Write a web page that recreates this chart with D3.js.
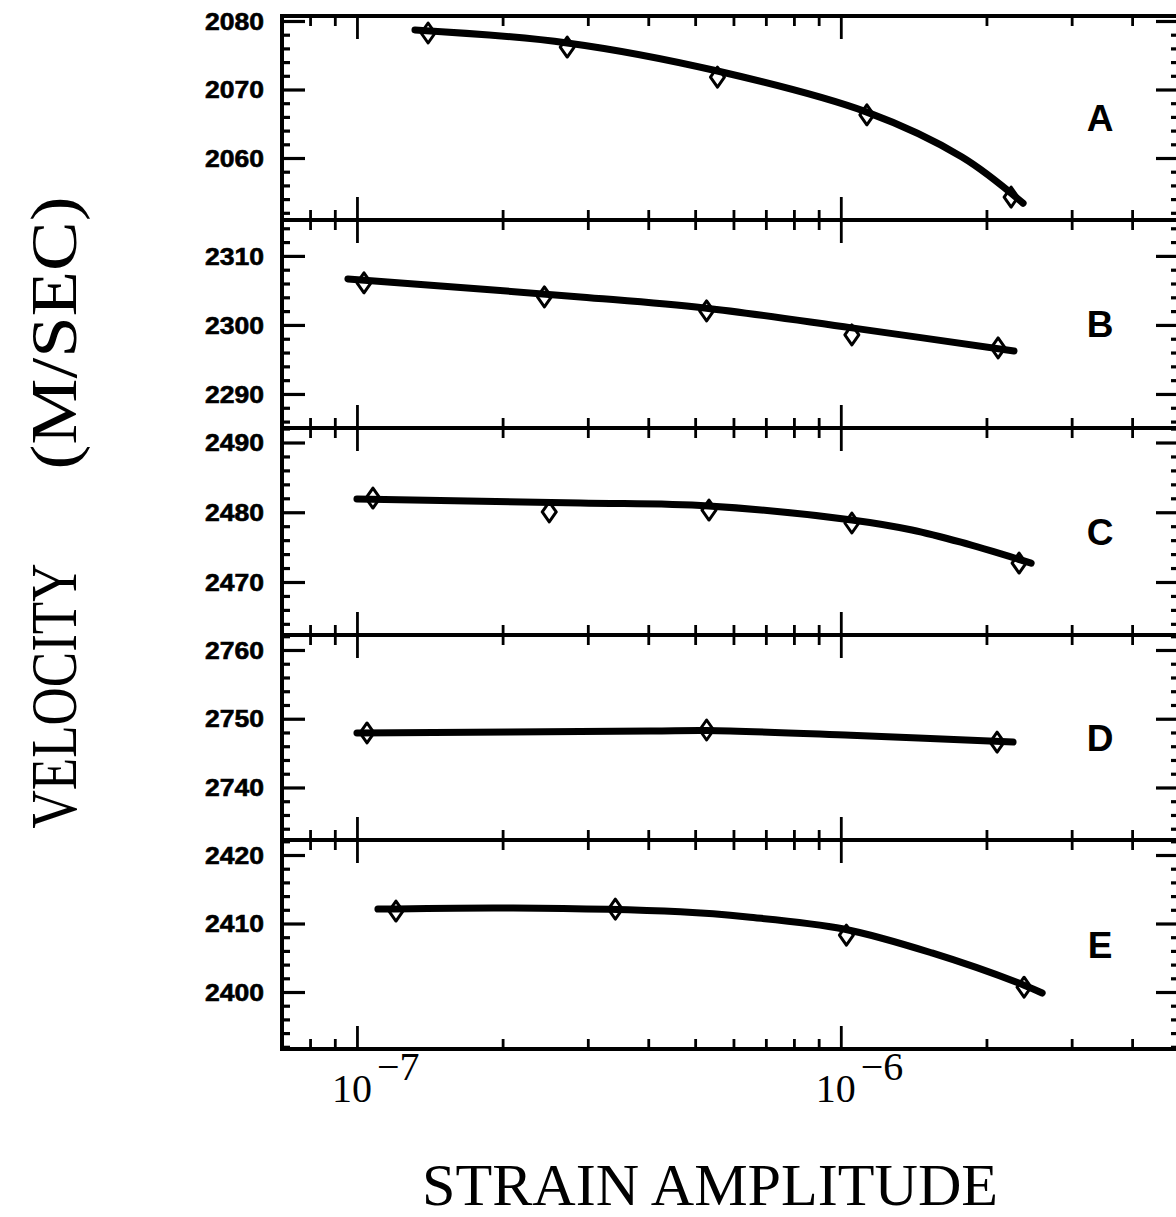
<!DOCTYPE html>
<html>
<head>
<meta charset="utf-8">
<script src="https://cdn.jsdelivr.net/npm/d3@7"></script>
<style>
  html, body { margin: 0; padding: 0; background: #fff; }
  svg { display: block; }
</style>
</head>
<body>
<svg id="chart" width="1176" height="1217"></svg>
<script>
// ---------------- DATA ----------------
const panels = ["A", "B", "C", "D", "E"];
const yDomains = [
  [2050.95, 2080.73],
  [2285.07, 2315.2],
  [2462.4, 2492.08],
  [2732.36, 2762.18],
  [2391.68, 2422.19]
];
const yTickLabels = [
  [2060, 2070, 2080],
  [2290, 2300, 2310],
  [2470, 2480, 2490],
  [2740, 2750, 2760],
  [2400, 2410, 2420]
];
const xDomain = [7e-8, 5e-6];
const xMajorTicks = [1e-7, 1e-6];
const xMinorTicks = [8e-8, 9e-8, 2e-7, 3e-7, 4e-7, 5e-7, 6e-7, 7e-7, 8e-7, 9e-7, 2e-6, 3e-6, 4e-6];
const xTickBase = ["10", "10"];
const xTickExp = ["\u22127", "\u22126"];

// measured points (diamonds)
const markerStrain = [
  [1.403e-7, 2.72e-7, 5.56e-7, 1.132e-6, 2.249e-6],
  [1.034e-7, 2.44e-7, 5.28e-7, 1.054e-6, 2.114e-6],
  [1.079e-7, 2.497e-7, 5.34e-7, 1.054e-6, 2.336e-6],
  [1.049e-7, 5.28e-7, 2.104e-6],
  [1.204e-7, 3.42e-7, 1.027e-6, 2.392e-6]
];
const markerVelocity = [
  [2078.25, 2076.2, 2071.8, 2066.3, 2054.3],
  [2306.1, 2304.06, 2302.03, 2298.55, 2296.67],
  [2482.04, 2480.04, 2480.32, 2478.46, 2472.72],
  [2747.93, 2748.36, 2746.6],
  [2411.82, 2412.1, 2408.3, 2400.7]
];

// fitted curves
const curveStrain = [
  [1.318e-7, 2.72e-7, 5.56e-7, 1.132e-6, 1.78e-6, 2.381e-6],
  [0.958e-7, 2.895e-7, 5.23e-7, 1.054e-6, 2.28e-6],
  [1.0e-7, 2.895e-7, 5.33e-7, 1.054e-6, 1.403e-6, 1.771e-6, 2.474e-6],
  [1.0e-7, 4.04e-7, 5.28e-7, 1.049e-6, 2.27e-6],
  [1.105e-7, 2.104e-7, 4.66e-7, 6.42e-7, 1.014e-6, 1.543e-6, 2.392e-6, 2.607e-6]
];
const curveVelocity = [
  [2078.7, 2076.8, 2072.7, 2066.7, 2060.15, 2053.4],
  [2306.67, 2304.06, 2302.46, 2299.57, 2296.23],
  [2481.9, 2481.33, 2480.9, 2478.9, 2477.46, 2475.7, 2472.7],
  [2747.93, 2748.2, 2748.3, 2747.6, 2746.6],
  [2412.1, 2412.26, 2411.7, 2410.95, 2409.2, 2405.7, 2401.0, 2399.85]
];

const xTitle = "STRAIN AMPLITUDE";
const yTitleA = "VELOCITY";
const yTitleB = "(M/SEC)";

// ---------------- LAYOUT ----------------
const svg = d3.select("#chart");
const left = 282, right = 1179;
const edges = [16, 220, 428, 635, 840, 1049];
const x = d3.scaleLog().domain(xDomain).range([left, right]);

const SANS = "'Liberation Sans', Arial, sans-serif";
const SERIF = "'Liberation Serif', 'Times New Roman', serif";

function styleTicks(g, w) {
  g.select(".domain").remove();
  g.selectAll(".tick line").attr("stroke", "#000").attr("stroke-width", w).attr("stroke-linecap", "butt");
  g.selectAll(".tick text").remove();
}

panels.forEach((name, i) => {
  const top = edges[i], bottom = edges[i + 1];
  const y = d3.scaleLinear().domain(yDomains[i]).range([bottom, top]);
  const g = svg.append("g");

  const [lo, hi] = yDomains[i];
  const yMajor = d3.range(Math.ceil(lo / 10) * 10, hi, 10);
  const yMinor = d3.range(Math.ceil(lo / 2) * 2, hi, 2).filter(v => v % 10 !== 0);

  g.append("g").attr("transform", `translate(0,${bottom})`)
    .call(d3.axisBottom(x).tickValues(xMinorTicks).tickSize(-10).tickFormat(""))
    .call(s => styleTicks(s, 2.8));
  g.append("g").attr("transform", `translate(0,${bottom})`)
    .call(d3.axisBottom(x).tickValues(xMajorTicks).tickSize(-23).tickFormat(""))
    .call(s => styleTicks(s, 2.8));
  g.append("g").attr("transform", `translate(0,${top})`)
    .call(d3.axisTop(x).tickValues(xMinorTicks).tickSize(-10).tickFormat(""))
    .call(s => styleTicks(s, 2.8));
  g.append("g").attr("transform", `translate(0,${top})`)
    .call(d3.axisTop(x).tickValues(xMajorTicks).tickSize(-23).tickFormat(""))
    .call(s => styleTicks(s, 2.8));
  g.append("g").attr("transform", `translate(${left},0)`)
    .call(d3.axisLeft(y).tickValues(yMinor).tickSize(-8).tickFormat(""))
    .call(s => styleTicks(s, 3.2));
  g.append("g").attr("transform", `translate(${left},0)`)
    .call(d3.axisLeft(y).tickValues(yMajor).tickSize(-23).tickFormat(""))
    .call(s => styleTicks(s, 3.2));
  g.append("g").attr("transform", `translate(${right},0)`)
    .call(d3.axisRight(y).tickValues(yMinor).tickSize(-8).tickFormat(""))
    .call(s => styleTicks(s, 3.2));
  g.append("g").attr("transform", `translate(${right},0)`)
    .call(d3.axisRight(y).tickValues(yMajor).tickSize(-23).tickFormat(""))
    .call(s => styleTicks(s, 3.2));

  g.append("rect")
    .attr("x", left).attr("y", top)
    .attr("width", right - left).attr("height", bottom - top)
    .attr("fill", "none").attr("stroke", "#000").attr("stroke-width", 4);

  g.selectAll("text.ylab").data(yTickLabels[i]).enter().append("text")
    .attr("class", "ylab")
    .attr("x", 264)
    .attr("y", d => y(d))
    .attr("dy", "0.36em")
    .attr("text-anchor", "end")
    .attr("font-family", SANS)
    .attr("font-weight", "bold")
    .attr("font-size", 24)
    .attr("textLength", 59)
    .attr("lengthAdjust", "spacingAndGlyphs")
    .attr("stroke", "#000").attr("stroke-width", 0.6)
    .text(d => d);

  const pts = markerStrain[i].map((s, k) => [s, markerVelocity[i][k]]);
  g.selectAll("path.mk").data(pts).enter().append("path")
    .attr("class", "mk")
    .attr("transform", d => `translate(${x(d[0])},${y(d[1])})`)
    .attr("d", "M0,-10L7,0L0,10L-7,0Z")
    .attr("fill", "none")
    .attr("stroke", "#000")
    .attr("stroke-width", 3)
    .attr("stroke-linejoin", "round");

  const cpts = curveStrain[i].map((s, k) => [s, curveVelocity[i][k]]);
  const line = d3.line().x(d => x(d[0])).y(d => y(d[1])).curve(d3.curveCatmullRom.alpha(0.5));
  g.append("path")
    .attr("d", line(cpts))
    .attr("fill", "none")
    .attr("stroke", "#000")
    .attr("stroke-width", 7)
    .attr("stroke-linecap", "round")
    .attr("stroke-linejoin", "round");

  g.append("text")
    .attr("x", 1100)
    .attr("y", top + (bottom - top) / 2)
    .attr("dy", "0.36em")
    .attr("text-anchor", "middle")
    .attr("font-family", SANS)
    .attr("font-weight", "bold")
    .attr("font-size", 37)
    .text(name);
});

xMajorTicks.forEach((v, k) => {
  svg.append("text")
    .attr("x", x(v) + 15).attr("y", 1102)
    .attr("text-anchor", "end")
    .attr("font-family", SERIF).attr("font-size", 40)
    .text(xTickBase[k]);
  svg.append("text")
    .attr("x", x(v) + 20).attr("y", 1080)
    .attr("text-anchor", "start")
    .attr("font-family", SERIF).attr("font-size", 40)
    .text(xTickExp[k]);
});

svg.append("text")
  .attr("x", 710).attr("y", 1205)
  .attr("text-anchor", "middle")
  .attr("font-family", SERIF).attr("font-size", 60)
  .attr("textLength", 576).attr("lengthAdjust", "spacingAndGlyphs")
  .text(xTitle);

svg.append("text")
  .attr("transform", "translate(76,696) rotate(-90)")
  .attr("text-anchor", "middle")
  .attr("font-family", SERIF).attr("font-size", 66)
  .attr("textLength", 265).attr("lengthAdjust", "spacingAndGlyphs")
  .text(yTitleA);

svg.append("text")
  .attr("transform", "translate(76,333) rotate(-90)")
  .attr("text-anchor", "middle")
  .attr("font-family", SERIF).attr("font-size", 66)
  .attr("textLength", 273).attr("lengthAdjust", "spacingAndGlyphs")
  .text(yTitleB);
</script>
</body>
</html>
